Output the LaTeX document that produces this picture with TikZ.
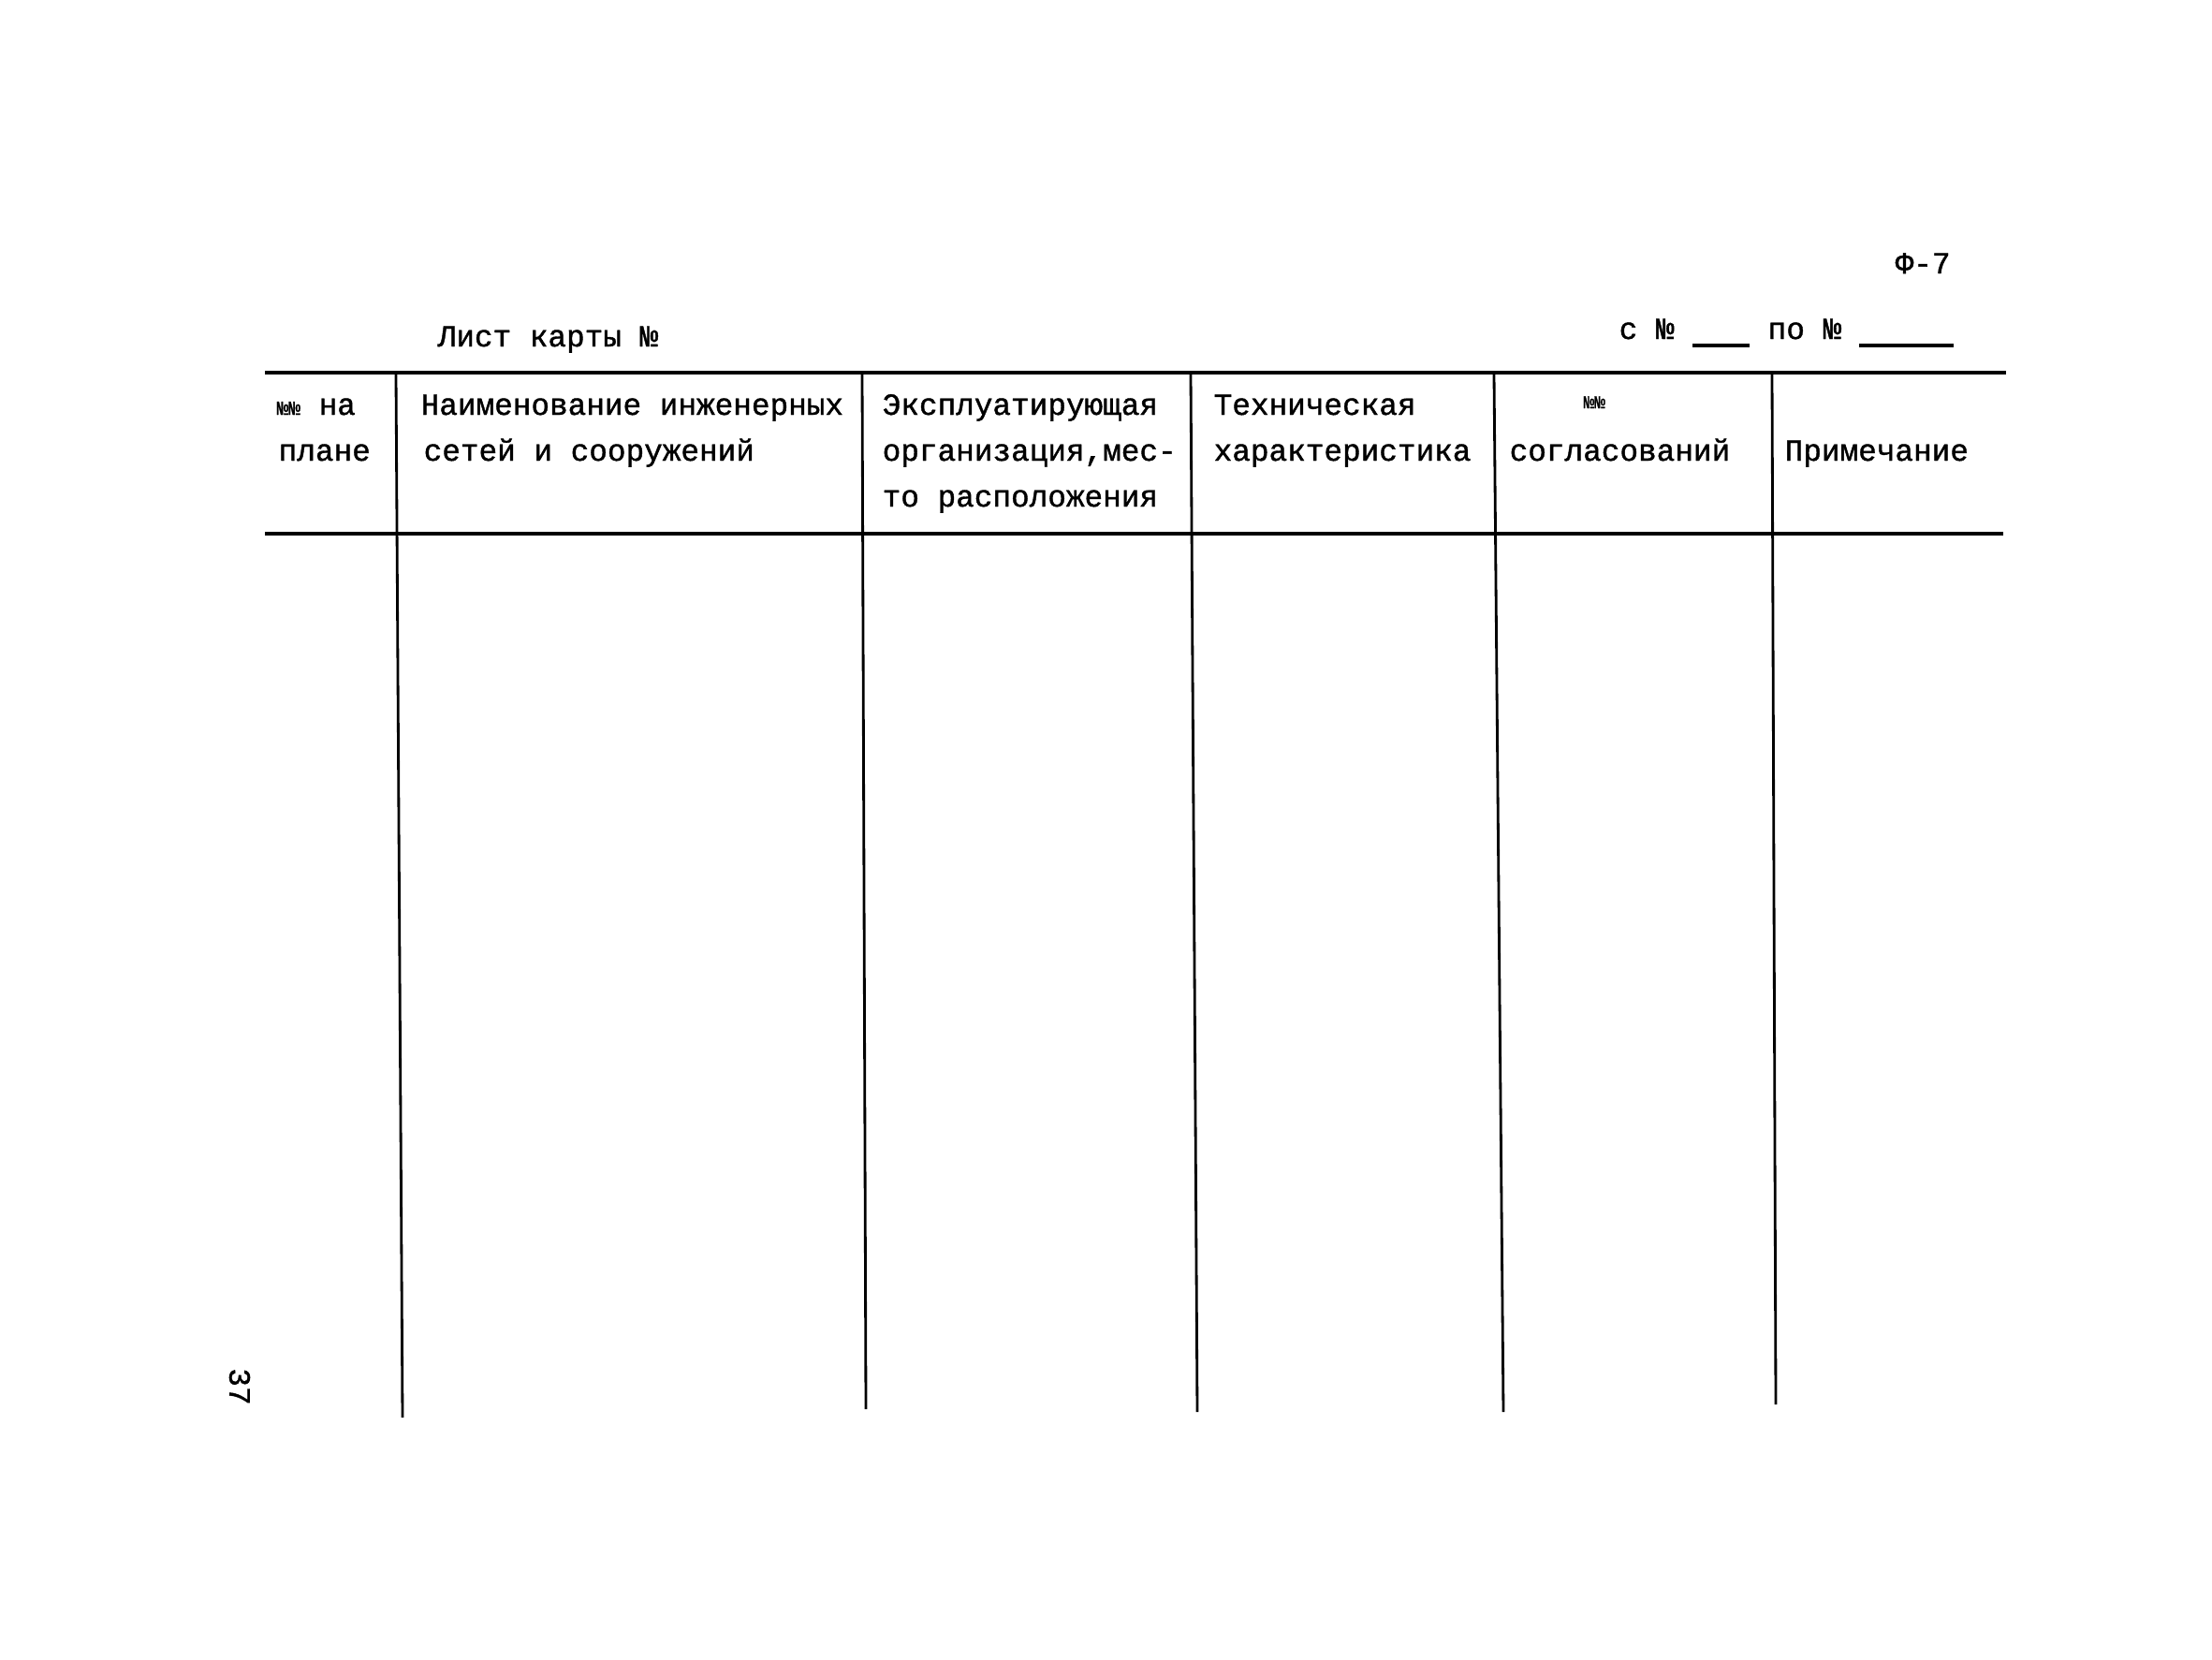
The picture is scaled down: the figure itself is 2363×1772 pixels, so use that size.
\documentclass[tikz,border=0pt]{standalone}
\usepackage{fontspec}
\newfontfamily\tw{Liberation Mono}[FakeBold=1.2]
\begin{document}
\begin{tikzpicture}[x=0.01cm,y=-0.01cm,
  txt/.style={font=\tw\fontsize{9.3}{13.9}\selectfont, inner sep=0pt, anchor=base west},
  small/.style={font=\tw\fontsize{5.5}{6}\selectfont, inner sep=0pt, anchor=base west},
  hrule/.style={line width=1.3pt},
  vrule/.style={line width=0.8pt},
  uline/.style={line width=0.9pt}]
\useasboundingbox (0,0) rectangle (2363,1772);

% horizontal rules
\coordinate (tl) at (283,398); \coordinate (tr) at (2143,398);
\coordinate (bl) at (283,570); \coordinate (br) at (2140,570);
\draw[hrule] (tl) -- (tr);
\draw[hrule] (bl) -- (br);

% vertical rules
\coordinate (v1t) at (423,400); \coordinate (v1b) at (430,1514);
\coordinate (v2t) at (921,400); \coordinate (v2b) at (925,1505);
\coordinate (v3t) at (1272,400); \coordinate (v3b) at (1279,1508);
\coordinate (v4t) at (1596,400); \coordinate (v4b) at (1606,1508);
\coordinate (v5t) at (1893,400); \coordinate (v5b) at (1897,1500);
\foreach \i in {1,...,5} {\draw[vrule] (v\i t) -- (v\i b);}

% titles above the table
\node[txt] (title) at (467,370) {Лист карты №};
\node[txt] (snum) at (1729,362) {с №};
\coordinate (u1a) at (1808,369); \coordinate (u1b) at (1869,369);
\draw[uline] (u1a) -- (u1b);
\node[txt] (ponum) at (1888,362) {по №};
\coordinate (u2a) at (1986,369); \coordinate (u2b) at (2087,369);
\draw[uline] (u2a) -- (u2b);
\node[txt] (form) at (2024,292) {Ф-7};

% header
\node[txt] (c1a) at (295,443) {{\fontsize{6}{6}\selectfont №№}~на};
\node[txt] (c1b) at (297,492) {плане};
\node[txt] (c2a) at (449,443) {Наименование инженерных};
\node[txt] (c2b) at (452,492) {сетей и сооружений};
\node[txt] (c3a) at (942,443) {Эксплуатирующая};
\node[txt] (c3b) at (942,492) {организация,мес-};
\node[txt] (c3c) at (942,541) {то расположения};
\node[txt] (c4a) at (1296,443) {Техническая};
\node[txt] (c4b) at (1296,492) {характеристика};
\node[small] (c5a) at (1691,436) {№№};
\node[txt] (c5b) at (1612,492) {согласований};
\node[txt] (c6) at (1906,492) {Примечание};

% page number
\node[txt, anchor=center, rotate=-90] (page) at (256,1481) {37};
\end{tikzpicture}
\end{document}
